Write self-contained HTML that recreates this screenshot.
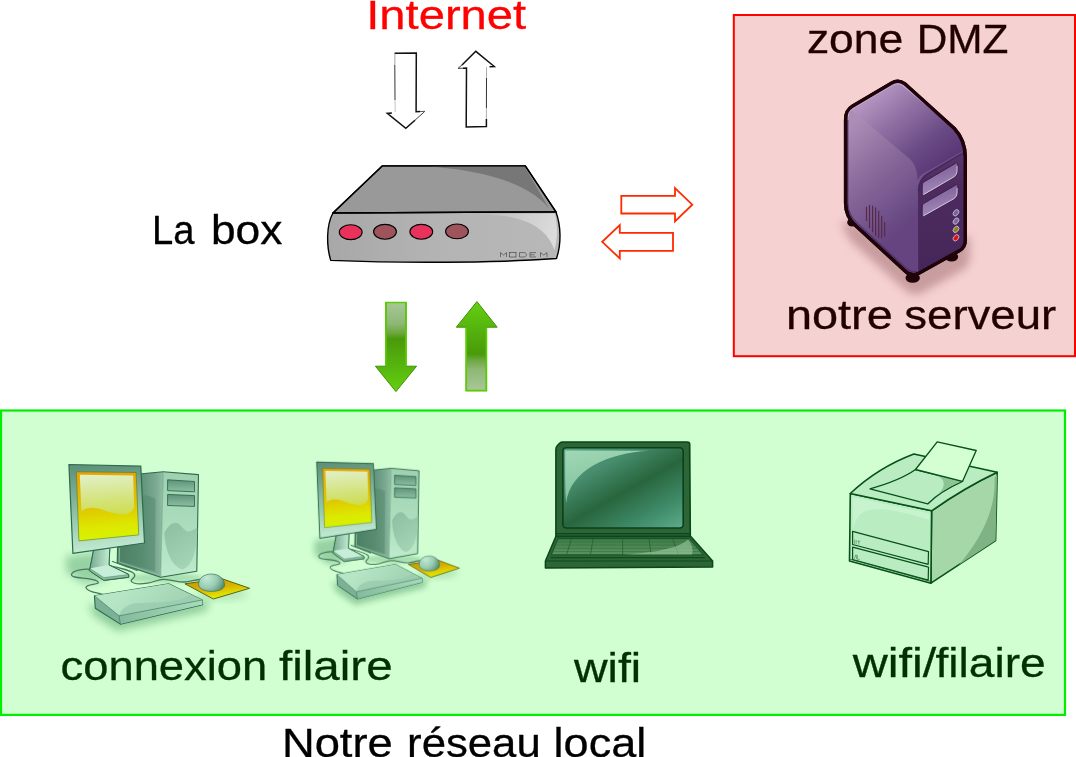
<!DOCTYPE html>
<html>
<head>
<meta charset="utf-8">
<title>Notre r&eacute;seau local</title>
<style>
html,body{margin:0;padding:0;background:#ffffff;}
body{width:1076px;height:757px;overflow:hidden;position:relative;font-family:"Liberation Sans",sans-serif;}
svg{position:absolute;left:0;top:0;display:block;}
text{font-family:"Liberation Sans",sans-serif;font-size:41.5px;stroke-width:0.3px;}
</style>
</head>
<body>
<svg width="1076" height="757" viewBox="0 0 1076 757">
<defs>

<linearGradient id="gDown" gradientUnits="userSpaceOnUse" x1="0" y1="302" x2="0" y2="392">
<stop offset="0" stop-color="#a9c898"/><stop offset="0.24" stop-color="#8eb876"/><stop offset="0.35" stop-color="#6aa63c"/><stop offset="0.41" stop-color="#4a9a0a"/><stop offset="0.7" stop-color="#56b40e"/><stop offset="1" stop-color="#64d010"/>
</linearGradient>
<linearGradient id="gUp" gradientUnits="userSpaceOnUse" x1="0" y1="391" x2="0" y2="301">
<stop offset="0" stop-color="#a9c898"/><stop offset="0.24" stop-color="#8eb876"/><stop offset="0.35" stop-color="#6aa63c"/><stop offset="0.41" stop-color="#4a9a0a"/><stop offset="0.7" stop-color="#56b40e"/><stop offset="1" stop-color="#64d010"/>
</linearGradient>

<linearGradient id="mFront" x1="0" y1="0" x2="1" y2="0">
<stop offset="0" stop-color="#a8a8a8"/><stop offset="0.5" stop-color="#b4b4b4"/><stop offset="1" stop-color="#b8b8b8"/>
</linearGradient>
<linearGradient id="mShine" gradientUnits="userSpaceOnUse" x1="480" y1="214" x2="556" y2="245">
<stop offset="0" stop-color="#bcbcbc"/><stop offset="1" stop-color="#dedede"/>
</linearGradient>

<filter id="blur4" x="-30%" y="-30%" width="160%" height="160%"><feGaussianBlur stdDeviation="4"/></filter>
<filter id="blur6" x="-30%" y="-30%" width="160%" height="160%"><feGaussianBlur stdDeviation="6"/></filter>
<filter id="blur2" x="-30%" y="-30%" width="160%" height="160%"><feGaussianBlur stdDeviation="2"/></filter>
<linearGradient id="sSide" gradientUnits="userSpaceOnUse" x1="846" y1="130" x2="920" y2="215">
<stop offset="0" stop-color="#ac8db6"/><stop offset="0.4" stop-color="#8c6c9c"/><stop offset="0.8" stop-color="#71518a"/><stop offset="1" stop-color="#65447f"/>
</linearGradient>
<linearGradient id="sTop" gradientUnits="userSpaceOnUse" x1="880" y1="88" x2="945" y2="168">
<stop offset="0" stop-color="#b595c0"/><stop offset="0.35" stop-color="#8e6ea2"/><stop offset="0.7" stop-color="#6a4a84"/><stop offset="1" stop-color="#573575"/>
</linearGradient>
<linearGradient id="sFront" gradientUnits="userSpaceOnUse" x1="940" y1="150" x2="940" y2="270">
<stop offset="0" stop-color="#59366f"/><stop offset="0.3" stop-color="#4d2b5e"/><stop offset="1" stop-color="#46265a"/>
</linearGradient>
<linearGradient id="sBay" x1="0" y1="0" x2="0.3" y2="1">
<stop offset="0" stop-color="#75558f"/><stop offset="1" stop-color="#a48cbc"/>
</linearGradient>
<clipPath id="ventClip"><ellipse cx="876" cy="220.5" rx="9.8" ry="16.5" transform="rotate(-22 876 220.5)"/></clipPath>

<linearGradient id="cBezel" gradientUnits="userSpaceOnUse" x1="100" y1="465" x2="108" y2="552">
<stop offset="0" stop-color="#5f927a"/><stop offset="0.5" stop-color="#8cbfa4"/><stop offset="1" stop-color="#c4ecd4"/>
</linearGradient>
<linearGradient id="cScreen" gradientUnits="userSpaceOnUse" x1="105" y1="472" x2="110" y2="540">
<stop offset="0" stop-color="#e9a400"/><stop offset="0.5" stop-color="#dfc500"/><stop offset="0.8" stop-color="#dde800"/><stop offset="1" stop-color="#d6f400"/>
</linearGradient>
<linearGradient id="cGloss" gradientUnits="userSpaceOnUse" x1="105" y1="474" x2="108" y2="514">
<stop offset="0" stop-color="#e1f0c6"/><stop offset="0.6" stop-color="#d5e480"/><stop offset="1" stop-color="#cede52"/>
</linearGradient>
<linearGradient id="cSide" gradientUnits="userSpaceOnUse" x1="118" y1="520" x2="163" y2="520">
<stop offset="0" stop-color="#4c8065"/><stop offset="0.55" stop-color="#63957b"/><stop offset="0.85" stop-color="#7caa92"/><stop offset="1" stop-color="#8fbfa4"/>
</linearGradient>
<linearGradient id="cFront" gradientUnits="userSpaceOnUse" x1="180" y1="472" x2="178" y2="576">
<stop offset="0" stop-color="#9fd0b0"/><stop offset="0.5" stop-color="#abdcbc"/><stop offset="1" stop-color="#bdebcb"/>
</linearGradient>
<linearGradient id="cBay" x1="0" y1="0" x2="0" y2="1">
<stop offset="0" stop-color="#5f927a"/><stop offset="1" stop-color="#8dbfa3"/>
</linearGradient>
<linearGradient id="cOval" gradientUnits="userSpaceOnUse" x1="168" y1="525" x2="195" y2="565">
<stop offset="0" stop-color="#8fc0a3"/><stop offset="1" stop-color="#a5d6b6"/>
</linearGradient>
<linearGradient id="cStand" gradientUnits="userSpaceOnUse" x1="92" y1="560" x2="110" y2="560">
<stop offset="0" stop-color="#7fb197"/><stop offset="1" stop-color="#c4ecd4"/>
</linearGradient>
<linearGradient id="cKbTop" gradientUnits="userSpaceOnUse" x1="130" y1="585" x2="160" y2="615">
<stop offset="0" stop-color="#b6e6c6"/><stop offset="1" stop-color="#a4d6b6"/>
</linearGradient>
<linearGradient id="cKbFront" gradientUnits="userSpaceOnUse" x1="120" y1="620" x2="202" y2="602">
<stop offset="0" stop-color="#86ba9e"/><stop offset="1" stop-color="#a8dabb"/>
</linearGradient>
<linearGradient id="cPad" gradientUnits="userSpaceOnUse" x1="215" y1="579" x2="218" y2="599">
<stop offset="0" stop-color="#cf9800"/><stop offset="0.45" stop-color="#d9b400"/><stop offset="0.75" stop-color="#e0d800"/><stop offset="1" stop-color="#e4f000"/>
</linearGradient>
<radialGradient id="cMouse" gradientUnits="userSpaceOnUse" cx="207" cy="578" r="18">
<stop offset="0" stop-color="#c2ead6"/><stop offset="0.55" stop-color="#9accb2"/><stop offset="0.85" stop-color="#6fa68c"/><stop offset="1" stop-color="#568c72"/>
</radialGradient>

<linearGradient id="lScreen" gradientUnits="userSpaceOnUse" x1="593.1" y1="434.9" x2="656.9" y2="548.1">
<stop offset="0" stop-color="#5aa283"/><stop offset="0.25" stop-color="#468c6d"/><stop offset="0.5" stop-color="#28663d"/><stop offset="0.75" stop-color="#3f8a68"/><stop offset="1" stop-color="#62b292"/>
</linearGradient>
<linearGradient id="lGloss" gradientUnits="userSpaceOnUse" x1="575" y1="450" x2="585" y2="500">
<stop offset="0" stop-color="#a6dcb8"/><stop offset="1" stop-color="#86c6a4"/>
</linearGradient>
<linearGradient id="lKeys" gradientUnits="userSpaceOnUse" x1="0" y1="538" x2="0" y2="555">
<stop offset="0" stop-color="#3f7c49"/><stop offset="1" stop-color="#5a9460"/>
</linearGradient>
<clipPath id="lKeyClip"><path d="M558 538.7 H689.4 L703.1 554.8 H551.4 Z"/></clipPath>

<clipPath id="pSideClip"><path d="M931.6 510.8 Q965 487.5 997.2 472.3 L995.6 540.6 L930.9 583.2 Z"/></clipPath>
<clipPath id="pFrontClip"><path d="M850.3 493.5 L931.6 510.8 L930.9 583.2 L849.5 561.1 Z"/></clipPath>
<!--DEFS-->
</defs>

<!-- ===== zones ===== -->
<rect x="733.8" y="15" width="341.2" height="341.2" fill="#f6d1d1" stroke="#ff0000" stroke-width="2"/>
<rect x="1" y="410.5" width="1064" height="304.4" fill="#d2ffd2" stroke="#00ee00" stroke-width="2.2"/>

<!-- ===== labels ===== -->
<g id="labels" style="will-change:opacity;opacity:0.9999">
<text x="366.2" y="29.2" fill="#ff0000" stroke="#ff0000" textLength="160.0" lengthAdjust="spacingAndGlyphs">Internet</text>
<text x="152.0" y="243.5" fill="#000000" stroke="#000000" textLength="42.5" lengthAdjust="spacingAndGlyphs">La</text>
<text x="210.9" y="243.5" fill="#000000" stroke="#000000" textLength="71.5" lengthAdjust="spacingAndGlyphs">box</text>
<text x="806.9" y="53" fill="#220000" stroke="#220000" textLength="96.4" lengthAdjust="spacingAndGlyphs">zone</text>
<text x="916.7" y="53" fill="#220000" stroke="#220000" textLength="91.7" lengthAdjust="spacingAndGlyphs">DMZ</text>
<text x="785.9" y="328.9" fill="#220000" stroke="#220000" textLength="106.8" lengthAdjust="spacingAndGlyphs">notre</text>
<text x="904.3" y="328.9" fill="#220000" stroke="#220000" textLength="151.9" lengthAdjust="spacingAndGlyphs">serveur</text>
<text x="60.5" y="679.5" fill="#003000" stroke="#003000" textLength="206.8" lengthAdjust="spacingAndGlyphs">connexion</text>
<text x="279.0" y="679.5" fill="#003000" stroke="#003000" textLength="113.6" lengthAdjust="spacingAndGlyphs">filaire</text>
<text x="573.9" y="681.9" fill="#003000" stroke="#003000" textLength="67.3" lengthAdjust="spacingAndGlyphs">wifi</text>
<text x="852.7" y="677.4" fill="#003000" stroke="#003000" textLength="83.6" lengthAdjust="spacingAndGlyphs">wifi/</text>
<text x="935.4" y="677.4" fill="#003000" stroke="#003000" textLength="110.4" lengthAdjust="spacingAndGlyphs">filaire</text>
<text x="281.9" y="757.2" fill="#000000" stroke="#000000" textLength="110.9" lengthAdjust="spacingAndGlyphs">Notre</text>
<text x="407.1" y="757.2" fill="#000000" stroke="#000000" textLength="133.6" lengthAdjust="spacingAndGlyphs">r&eacute;seau</text>
<text x="553.6" y="757.2" fill="#000000" stroke="#000000" textLength="92.6" lengthAdjust="spacingAndGlyphs">local</text>
</g>

<!-- ===== red arrows ===== -->
<g fill="none" stroke="#ff2a00" stroke-width="1.8" stroke-linejoin="miter">
<path d="M621.3 195.8 H675 V188 L692.3 204.7 L675 221.4 V213.5 H621.3 Z"/>
<path d="M673 232.9 H619.8 V225.2 L602.2 241.8 L619.8 258.4 V250.8 H673 Z"/>
</g>

<!-- ===== black sketch arrows ===== -->
<g fill="none" stroke="#111" stroke-linejoin="miter" stroke-linecap="butt">
<path d="M394.6 53.2 L416.3 53 L416.1 111.7 L420 111.6" stroke-width="1.5"/>
<path d="M420 111.6 L424.9 111.3" stroke-width="0.7"/>
<path d="M391.9 113 L387.3 113.4 L405.8 128.3 L415 120.2" stroke-width="1.5"/>
<path d="M415 120.2 L424.6 111.6" stroke-width="0.8"/>
<path d="M394.9 53.4 L394.8 65" stroke-width="0.6" stroke="#666"/>
<path d="M394.8 65 L395 100" stroke-width="1" stroke="#333"/>
<path d="M395 100 L395.2 112" stroke-width="0.5" stroke="#888"/>
<path d="M463.2 68.2 L458 68.4 L462 64.9" stroke-width="0.8"/>
<path d="M463 68.2 L466.5 68.1 L466.2 127 L486.4 126.6 L486.4 119" stroke-width="1.5"/>
<path d="M462 65 L475.8 51.3 L494.3 66.5 L489.5 66.8" stroke-width="1.5"/>
<path d="M486.4 119 L486.4 108" stroke-width="0.6" stroke="#777"/>
<path d="M486.4 108 L486.5 78" stroke-width="1" stroke="#333"/>
<path d="M486.5 78 L486.5 67.2" stroke-width="0.6" stroke="#777"/>
</g>
<!-- ===== green arrows ===== -->
<path d="M385.9 302.5 H406 V366.2 H416.6 L395.9 391.6 L375.4 366.2 H385.9 Z" fill="url(#gDown)" stroke="#3f9200" stroke-width="1" stroke-linejoin="miter"/>
<path d="M385.9 366 V302.5 H406 V366" fill="none" stroke="#5acb04" stroke-width="1.7" stroke-linejoin="miter"/>
<path d="M466.2 390.6 H486.4 V327.2 H497.2 L476.9 301.6 L456.3 327.2 H466.2 Z" fill="url(#gUp)" stroke="#3f9200" stroke-width="1" stroke-linejoin="miter"/>
<path d="M466.2 327.4 V390.6 H486.4 V327.4" fill="none" stroke="#5acb04" stroke-width="1.7" stroke-linejoin="miter"/>
<!-- ===== modem ===== -->
<g stroke-linejoin="round">
<path d="M382.2 165.9 H525.3 L556 211.9 L332.9 213 Z" fill="#999999" stroke="#000" stroke-width="1.4"/>
<path d="M428 166.6 C480 170 528 182 549 208.5 L524.6 166.6 Z" fill="#777777"/>
<path d="M332.9 213 C326 226 326.5 246 330.7 260.4 C400 263.2 490 263.2 556.5 258.5 C561.5 244 561 226 556 211.9 Z" fill="url(#mFront)" stroke="#000" stroke-width="1.4"/>
<path d="M478 214.2 C515 214.5 545 222 554.5 250 C558 238 557.5 224 554.8 213.6 Z" fill="url(#mShine)"/>
<path d="M382.2 165.9 H525.3 L556 211.9 L332.9 213 Z" fill="none" stroke="#000" stroke-width="1.4"/>
<g stroke="#000" stroke-width="1.1">
<ellipse cx="350.7" cy="232.2" rx="11.4" ry="7.4" fill="#e8325c"/>
<ellipse cx="385" cy="231.8" rx="11.4" ry="7.4" fill="#9f545b"/>
<ellipse cx="421.3" cy="231.8" rx="11.4" ry="7.4" fill="#e8325c"/>
<ellipse cx="457" cy="231.4" rx="11.4" ry="7.4" fill="#9f545b"/>
</g>
<g fill="none" stroke="#4a4a4a" stroke-width="0.7" stroke-linejoin="miter">
<path d="M500.5 257 V252.6 L503.5 255 L506.5 252.6 V257"/>
<rect x="509.5" y="252.6" width="6.5" height="4.4"/>
<path d="M519.5 252.6 H524.5 C527 253.2 527 256.4 524.5 257 H519.5 Z"/>
<path d="M536 252.6 H530 V257 H536 M530 254.8 H534.5"/>
<path d="M540.5 257 V252.6 L543.7 255 L547 252.6 V257"/>
</g>
</g>

<!-- ===== server ===== -->
<g>
<path d="M842 220 C844 232 849 240 856 246 L906 291 C911 295 917 295.5 922 293 L963 270 C969 266.5 970 260 970 254 L970 236 L930 250 Z" fill="#bd9093" opacity="0.8" filter="url(#blur4)"/>
<ellipse cx="852.2" cy="222.4" rx="5" ry="4.2" fill="#1f0308"/>
<ellipse cx="912.7" cy="278" rx="7.2" ry="4.8" fill="#1f0308"/>
<ellipse cx="951.6" cy="256.8" rx="6.6" ry="4.8" fill="#1f0308"/>
<path d="M904.5 83.6 C900 80.4 895.8 80.6 891.4 83.2 L852.4 106.2 C847 109.4 845.6 113.2 845.6 119.8 L845.6 203 C845.6 213 848.6 219.5 855.5 225.6 L905.6 271.4 C909.6 275 914.4 275.6 918.8 273.2 L959.6 250.6 C964 248 965.2 245.3 965.2 240.6 L965.2 157 C965.2 146 961.6 136.4 954.3 128.5 Z" fill="url(#sSide)" stroke="#1f0308" stroke-width="3.4" stroke-linejoin="round"/>
<path d="M904.5 83.6 C900 80.4 895.8 80.6 891.4 83.2 L852.4 106.2 C851 107 850 108 849.2 109 C852 110.6 854 112 856 113.6 L909.5 158.8 C914.5 163.5 917.4 170 917.8 181 C918.6 176.6 922 174 929 170.6 L960 152.6 C962.4 151.4 964.4 150.6 965.2 151.6 C964.6 143 960.6 135 954.3 128.5 Z" fill="url(#sTop)"/>
<path d="M918.2 270 L918 192 C918 182 921 176.5 929 172 L960 153.4 C962.4 152 964.4 151.2 965.2 152.2 L965.2 240.6 C965.2 245.3 964 248 959.6 250.6 L918.8 273.2 Z" fill="url(#sFront)"/>
<path d="M918.4 191 C918.6 182.5 921.6 177.6 929 173.2 L960 155 C962.4 153.6 964 153 965 153.6" fill="none" stroke="#3b1c4c" stroke-width="1.4" opacity="0.45"/>
<path d="M848.2 117 C847.8 113.6 849.6 110 853.3 107.9 L892 85.2 C895.4 83.2 898.6 83.1 901.6 84.6 L936 113" fill="none" stroke="#d2bcdb" stroke-width="1.1" opacity="0.7"/>
<path d="M847.8 120 L847.8 203 C848 211.5 851 217.6 857 223 L906.6 268.4 C910 271.4 913.6 272.4 917 271" fill="none" stroke="#4b2c66" stroke-width="1.3" opacity="0.8"/>
<!-- bays -->
<path d="M922.2 186 C922.2 183.6 923 182.4 924.8 181.4 L955.4 163.4 C957 162.5 957.8 163 957.8 164.8 L957.8 170 C957.8 174 956.4 176.2 953.4 177.9 L924.8 194.7 C923 195.7 922.2 195.3 922.2 193.6 Z" fill="url(#sBay)" stroke="#34184a" stroke-width="0.9"/>
<path d="M923.6 194.6 L953.2 177.3 C956 175.6 957.1 173.6 957.1 170 L957.1 166" fill="none" stroke="#ecd6ea" stroke-width="0.9" opacity="0.9"/>
<path d="M922.2 207.4 C922.2 205 923 203.8 924.8 202.8 L955.4 185.2 C957 184.3 957.8 184.8 957.8 186.6 L957.8 191.8 C957.8 195.8 956.4 198 953.4 199.7 L924.8 215.9 C923 216.9 922.2 216.5 922.2 214.8 Z" fill="url(#sBay)" stroke="#34184a" stroke-width="0.9"/>
<path d="M923.6 215.8 L953.2 199.1 C956 197.4 957.1 195.4 957.1 191.8 L957.1 188" fill="none" stroke="#ecd6ea" stroke-width="0.9" opacity="0.9"/>
<!-- leds -->
<g stroke="#c9b9db" stroke-width="0.8">
<ellipse cx="956" cy="212.8" rx="3.5" ry="2.4" fill="#7a629c" transform="rotate(-52 956 212.8)"/>
<ellipse cx="956" cy="221.1" rx="3.5" ry="2.4" fill="#8068a2" transform="rotate(-52 956 221.1)"/>
<ellipse cx="956" cy="229.4" rx="3.5" ry="2.4" fill="#8a8220" transform="rotate(-52 956 229.4)"/>
<ellipse cx="956" cy="237.8" rx="3.5" ry="2.4" fill="#e01212" transform="rotate(-52 956 237.8)"/>
</g>
<!-- vent -->
<g stroke="#572848" stroke-width="1.15" stroke-linecap="round" fill="none">
<path d="M866.5 207 V220.6 M869.5 205.3 V227.5 M872.6 206.1 V231.8 M875.6 207.8 V235.6 M878.7 211.4 V237.4 M881.7 216 V237.8 M884.7 222.5 V236.2"/>
</g>
<path d="M904.5 83.6 C900 80.4 895.8 80.6 891.4 83.2 L852.4 106.2 C847 109.4 845.6 113.2 845.6 119.8 L845.6 203 C845.6 213 848.6 219.5 855.5 225.6 L905.6 271.4 C909.6 275 914.4 275.6 918.8 273.2 L959.6 250.6 C964 248 965.2 245.3 965.2 240.6 L965.2 157 C965.2 146 961.6 136.4 954.3 128.5 Z" fill="none" stroke="#1f0308" stroke-width="3.4" stroke-linejoin="round"/>
</g>
<!-- ===== computers ===== -->
<g>
<!-- soft shadows -->
<path d="M66 556 L96 552 L108 580 L84 584 L66 572 Z" fill="#6fb482" opacity="0.6" filter="url(#blur4)"/>
<path d="M88 604 L94 616 L118 631 L206 611 L210 600 L120 610 Z" fill="#72b684" opacity="0.7" filter="url(#blur4)"/>
<ellipse cx="222" cy="594" rx="26" ry="6" fill="#8fcb9c" opacity="0.5" filter="url(#blur4)"/>
<ellipse cx="165" cy="578" rx="38" ry="5" fill="#7fc08f" opacity="0.5" filter="url(#blur2)"/>
<!-- tower side -->
<path d="M118 476.2 L141.8 473.7 L163.3 471.7 L160.7 577.2 L117.2 563.1 Z" fill="url(#cSide)"/>
<path d="M141.8 473.7 L163.3 471.7 M160.7 577.2 L117.2 563.1 L117.6 545" fill="none" stroke="#2d6b4b" stroke-width="1.1" stroke-linejoin="round" stroke-linecap="round"/>
<path d="M119.4 548 L119.2 562 L159 575" fill="none" stroke="#8fc3a6" stroke-width="1.2" opacity="0.8"/>
<path d="M141 496 C146 494.5 151 496 155.5 499 L155 571.4 L121.5 560.6 L121.5 545 L141 545 Z" fill="#4a7f64" opacity="0.4"/>
<!-- tower front -->
<path d="M163.3 471.7 L198.5 474.6 L196.8 571.3 L160.7 577.2 Z" fill="url(#cFront)"/>
<path d="M163.3 471.7 L198.5 474.6 L196.8 571.3 L160.7 577.2" fill="none" stroke="#2d6b4b" stroke-width="1.1" stroke-linejoin="round"/>
<path d="M163.3 471.7 L160.7 577.2" fill="none" stroke="#5f957a" stroke-width="0.7" opacity="0.7"/>
<path d="M164.4 532.6 C168 526 172 522.6 175.6 522.8 C180.5 523 183.5 531 188 531.4 C191.5 531.6 194.5 529.6 197.2 527.6 C197.6 550 192 567 182.4 569.4 C172 567 164.8 550 164.4 532.6 Z" fill="url(#cOval)"/>
<path d="M167.6 479.8 L194.5 481.5 V491.8 L167.6 490.6 Z" fill="url(#cBay)" stroke="#2d6b4b" stroke-width="0.9"/>
<path d="M167.6 494.4 L194.5 495.6 V506.4 L167.6 505.5 Z" fill="url(#cBay)" stroke="#2d6b4b" stroke-width="0.9"/>
<!-- cables -->
<g fill="none" stroke="#467a5e" stroke-width="1.3" stroke-linecap="round">
<path d="M91 569.3 C84 568.5 72 570.5 71.5 574.6 C71 579 90 577 97 581 C103 585 86 583.5 86 587.4 C86 591.5 98 593 103.5 594.6"/>
<path d="M109.3 565.6 C120 568 133 570.5 134.6 574.4 C136 578 129.5 579.5 131.6 581.6 C134 584.2 142 584 147.4 583.2 C154 582.2 158 579.2 164.1 579.4 C172 579.6 178 582.3 184.5 582 C190 581.8 194 580 199.4 579.5"/>
<path d="M112.6 561.5 C122 565 130 567.5 137 570.5"/>
</g>
<!-- stand -->
<path d="M93.5 550.4 L109.8 548.6 L109 565 L128.7 574.4 V577.3 L103.8 580.4 L89.2 570.5 L90 568.4 Z" fill="#b9e6ca" stroke="#2d6b4b" stroke-width="1" stroke-linejoin="round"/>
<path d="M93.5 550.4 L109.8 548.6 L109 565 L90 568.4 Z" fill="url(#cStand)"/>
<path d="M90 568.4 L109 565 L128.7 574.4 L103.8 577.6 Z" fill="#c7eed6"/>
<path d="M89.2 570.5 L103.8 580.4 L128.7 577.3 V574.4 L103.8 577.6 L90 568.4 Z" fill="#88ba9e"/>
<path d="M93.5 550.4 L90 568.4 L89.2 570.5 L103.8 580.4 L128.7 577.3 V574.4 L109 565 L109.8 548.6" fill="none" stroke="#2d6b4b" stroke-width="1" stroke-linejoin="round"/>
<path d="M90 568.4 L103.8 577.6 L128.7 574.4" fill="none" stroke="#2d6b4b" stroke-width="0.5" opacity="0.7"/>
<!-- monitor -->
<path d="M68.9 464.5 L140.8 466.2 L144.5 543 L72.9 553.3 Z" fill="url(#cBezel)" stroke="#2d6b4b" stroke-width="1.2" stroke-linejoin="round"/>
<path d="M76.3 471.8 L136.1 472.5 L138.7 534.9 L78.9 540.9 Z" fill="url(#cScreen)" stroke="#4c7a3a" stroke-width="0.6"/>
<path d="M79.8 474.8 L133.2 475.4 L134.2 506.5 C131.5 515 124 515.5 115 513.6 C103 511 92 503.5 81.4 511.2 Z" fill="url(#cGloss)"/>
<!-- keyboard -->
<path d="M94.4 595.7 L168.7 583.8 L202.2 600 L202.6 604.6 L120.4 624.1 L95.3 608.3 Z" fill="#7db197" stroke="#2d6b4b" stroke-width="1.1" stroke-linejoin="round"/>
<path d="M94.4 595.7 L168.7 583.8 L202.2 600 L119.1 615.8 Z" fill="url(#cKbTop)"/>
<path d="M119.1 615.8 L202.2 600 L202.6 604.6 L120.4 624.1 Z" fill="url(#cKbFront)"/>
<path d="M119.1 615.8 C121 608 128 603.5 140 603 C158 602.2 180 603 190 594.2 L202.2 600 Z" fill="#98caad" opacity="0.75"/>
<path d="M94.4 595.7 L119.1 615.8 L202.2 600 M119.1 615.8 L120.4 624.1" fill="none" stroke="#2d6b4b" stroke-width="0.7" opacity="0.75"/>
<!-- mouse pad + mouse -->
<path d="M184.9 583.8 L221.7 578.6 L249.6 588.3 L213.3 599 Z" fill="url(#cPad)" stroke="#4f6a14" stroke-width="1" stroke-linejoin="round"/>
<path d="M198.6 584.6 C198.6 578 204 574 211.4 574 C218.8 574 224.4 578.5 224.6 585 C224.6 589 218.6 591.4 211.6 591.4 C204.6 591.4 198.6 588.6 198.6 584.6 Z" fill="url(#cMouse)" stroke="#3c7558" stroke-width="0.7"/>
</g>
<g transform="translate(262.2 64) scale(0.79 0.857)">
<!-- soft shadows -->
<path d="M66 556 L96 552 L108 580 L84 584 L66 572 Z" fill="#6fb482" opacity="0.6" filter="url(#blur4)"/>
<path d="M88 604 L94 616 L118 631 L206 611 L210 600 L120 610 Z" fill="#72b684" opacity="0.7" filter="url(#blur4)"/>
<ellipse cx="222" cy="594" rx="26" ry="6" fill="#8fcb9c" opacity="0.5" filter="url(#blur4)"/>
<ellipse cx="165" cy="578" rx="38" ry="5" fill="#7fc08f" opacity="0.5" filter="url(#blur2)"/>
<!-- tower side -->
<path d="M118 476.2 L141.8 473.7 L163.3 471.7 L160.7 577.2 L117.2 563.1 Z" fill="url(#cSide)"/>
<path d="M141.8 473.7 L163.3 471.7 M160.7 577.2 L117.2 563.1 L117.6 545" fill="none" stroke="#2d6b4b" stroke-width="1.1" stroke-linejoin="round" stroke-linecap="round"/>
<path d="M119.4 548 L119.2 562 L159 575" fill="none" stroke="#8fc3a6" stroke-width="1.2" opacity="0.8"/>
<path d="M141 496 C146 494.5 151 496 155.5 499 L155 571.4 L121.5 560.6 L121.5 545 L141 545 Z" fill="#4a7f64" opacity="0.4"/>
<!-- tower front -->
<path d="M163.3 471.7 L198.5 474.6 L196.8 571.3 L160.7 577.2 Z" fill="url(#cFront)"/>
<path d="M163.3 471.7 L198.5 474.6 L196.8 571.3 L160.7 577.2" fill="none" stroke="#2d6b4b" stroke-width="1.1" stroke-linejoin="round"/>
<path d="M163.3 471.7 L160.7 577.2" fill="none" stroke="#5f957a" stroke-width="0.7" opacity="0.7"/>
<path d="M164.4 532.6 C168 526 172 522.6 175.6 522.8 C180.5 523 183.5 531 188 531.4 C191.5 531.6 194.5 529.6 197.2 527.6 C197.6 550 192 567 182.4 569.4 C172 567 164.8 550 164.4 532.6 Z" fill="url(#cOval)"/>
<path d="M167.6 479.8 L194.5 481.5 V491.8 L167.6 490.6 Z" fill="url(#cBay)" stroke="#2d6b4b" stroke-width="0.9"/>
<path d="M167.6 494.4 L194.5 495.6 V506.4 L167.6 505.5 Z" fill="url(#cBay)" stroke="#2d6b4b" stroke-width="0.9"/>
<!-- cables -->
<g fill="none" stroke="#467a5e" stroke-width="1.3" stroke-linecap="round">
<path d="M91 569.3 C84 568.5 72 570.5 71.5 574.6 C71 579 90 577 97 581 C103 585 86 583.5 86 587.4 C86 591.5 98 593 103.5 594.6"/>
<path d="M109.3 565.6 C120 568 133 570.5 134.6 574.4 C136 578 129.5 579.5 131.6 581.6 C134 584.2 142 584 147.4 583.2 C154 582.2 158 579.2 164.1 579.4 C172 579.6 178 582.3 184.5 582 C190 581.8 194 580 199.4 579.5"/>
<path d="M112.6 561.5 C122 565 130 567.5 137 570.5"/>
</g>
<!-- stand -->
<path d="M93.5 550.4 L109.8 548.6 L109 565 L128.7 574.4 V577.3 L103.8 580.4 L89.2 570.5 L90 568.4 Z" fill="#b9e6ca" stroke="#2d6b4b" stroke-width="1" stroke-linejoin="round"/>
<path d="M93.5 550.4 L109.8 548.6 L109 565 L90 568.4 Z" fill="url(#cStand)"/>
<path d="M90 568.4 L109 565 L128.7 574.4 L103.8 577.6 Z" fill="#c7eed6"/>
<path d="M89.2 570.5 L103.8 580.4 L128.7 577.3 V574.4 L103.8 577.6 L90 568.4 Z" fill="#88ba9e"/>
<path d="M93.5 550.4 L90 568.4 L89.2 570.5 L103.8 580.4 L128.7 577.3 V574.4 L109 565 L109.8 548.6" fill="none" stroke="#2d6b4b" stroke-width="1" stroke-linejoin="round"/>
<path d="M90 568.4 L103.8 577.6 L128.7 574.4" fill="none" stroke="#2d6b4b" stroke-width="0.5" opacity="0.7"/>
<!-- monitor -->
<path d="M68.9 464.5 L140.8 466.2 L144.5 543 L72.9 553.3 Z" fill="url(#cBezel)" stroke="#2d6b4b" stroke-width="1.2" stroke-linejoin="round"/>
<path d="M76.3 471.8 L136.1 472.5 L138.7 534.9 L78.9 540.9 Z" fill="url(#cScreen)" stroke="#4c7a3a" stroke-width="0.6"/>
<path d="M79.8 474.8 L133.2 475.4 L134.2 506.5 C131.5 515 124 515.5 115 513.6 C103 511 92 503.5 81.4 511.2 Z" fill="url(#cGloss)"/>
<!-- keyboard -->
<path d="M94.4 595.7 L168.7 583.8 L202.2 600 L202.6 604.6 L120.4 624.1 L95.3 608.3 Z" fill="#7db197" stroke="#2d6b4b" stroke-width="1.1" stroke-linejoin="round"/>
<path d="M94.4 595.7 L168.7 583.8 L202.2 600 L119.1 615.8 Z" fill="url(#cKbTop)"/>
<path d="M119.1 615.8 L202.2 600 L202.6 604.6 L120.4 624.1 Z" fill="url(#cKbFront)"/>
<path d="M119.1 615.8 C121 608 128 603.5 140 603 C158 602.2 180 603 190 594.2 L202.2 600 Z" fill="#98caad" opacity="0.75"/>
<path d="M94.4 595.7 L119.1 615.8 L202.2 600 M119.1 615.8 L120.4 624.1" fill="none" stroke="#2d6b4b" stroke-width="0.7" opacity="0.75"/>
<!-- mouse pad + mouse -->
<path d="M184.9 583.8 L221.7 578.6 L249.6 588.3 L213.3 599 Z" fill="url(#cPad)" stroke="#4f6a14" stroke-width="1" stroke-linejoin="round"/>
<path d="M198.6 584.6 C198.6 578 204 574 211.4 574 C218.8 574 224.4 578.5 224.6 585 C224.6 589 218.6 591.4 211.6 591.4 C204.6 591.4 198.6 588.6 198.6 584.6 Z" fill="url(#cMouse)" stroke="#3c7558" stroke-width="0.7"/>
</g>
<!-- ===== laptop ===== -->
<g stroke-linejoin="round">
<!-- base -->
<path d="M555.9 536.2 H690.6 L712.6 561 V567.1 L545.4 568.1 V561 Z" fill="#2c6536" stroke="#0b4519" stroke-width="1.5"/>
<path d="M545.4 561 H712.6" stroke="#0d4a1c" stroke-width="1.2" fill="none"/>
<path d="M550.4 557.6 H704.8" stroke="#0d4a1c" stroke-width="1.1" fill="none"/>
<path d="M558 538.7 H689.4 L703.1 554.8 H551.4 Z" fill="url(#lKeys)" stroke="#0d4a1c" stroke-width="0.8"/>
<g clip-path="url(#lKeyClip)">
<path d="M540 541.9 H720 M540 545.1 H720 M540 548.4 H720 M540 551.6 H720" stroke="#2f6d39" stroke-width="0.7" fill="none" opacity="0.8"/>
<path d="M571.5 538.7 L566.5 554.8 M593 538.7 L590.5 554.8 M622.5 538.7 L622.7 554.8 M649 538.7 L651 554.8 M672.5 538.7 L678.5 554.8" stroke="#265f30" stroke-width="0.8" fill="none"/>
<path d="M622 554.8 C650 553 678 549 688 539.5 C693 545 693 551 692 554.8 Z" fill="#9cc9a0" opacity="0.6"/>
</g>
<!-- lid -->
<path d="M555.9 449.5 C555.9 447.6 556.4 446.6 557.4 445.5 L559.6 443.2 C560.6 442.2 561.6 442 563 442 H687.4 C688.8 442 689.7 442.8 689.7 444.2 L690.3 536.2 H555.9 Z" fill="#2c6536" stroke="#0b4519" stroke-width="1.6"/>
<path d="M555.9 533.6 H690.4" stroke="#0b4519" stroke-width="1.3" fill="none"/>
<path d="M555.2 536.6 H691" stroke="#0b4519" stroke-width="1.4" fill="none"/>
<rect x="562.9" y="447.7" width="120.3" height="80.3" rx="3.4" ry="3.4" fill="url(#lScreen)" stroke="#0a401a" stroke-width="1.6"/>
<path d="M565.2 450.6 L649 450.8 C608 453 570 470 566.2 503 C565 490 565.2 470 565.2 450.6 Z" fill="url(#lGloss)" opacity="0.92"/>
</g>

<!-- ===== printer ===== -->
<g stroke-linejoin="round" stroke-linecap="round">
<!-- side -->
<path d="M931.6 510.8 Q965 487.5 997.2 472.3 L995.6 540.6 L930.9 583.2 Z" fill="#a5d7a9" stroke="#085019" stroke-width="1.6"/>
<g clip-path="url(#pSideClip)"><path d="M994.5 478 C996 505 985 535 958 566 L1000 566 L1000 470 Z" fill="#7fb385"/></g>
<!-- front -->
<path d="M850.3 493.5 L931.6 510.8 L930.9 583.2 L849.5 561.1 Z" fill="#b9edc1" stroke="#085019" stroke-width="1.6"/>
<g clip-path="url(#pFrontClip)">
<path d="M852.5 497 L929.5 513.5 L929.5 520 C905 512 880 506 866 511 C858 514 854.5 521 853.5 530 Z" fill="#cdf7d4" opacity="0.7"/>
</g>
<path d="M852.6 531.4 L928.5 551.6 L928.2 564.3 L852.6 544.5 Z" fill="#b9edc1" stroke="#085019" stroke-width="1.2"/>
<path d="M852.6 547.2 L928.5 567.1 L928.2 580.1 L852.6 559.5 Z" fill="#b9edc1" stroke="#085019" stroke-width="1.2"/>
<path d="M850.6 559.4 L930 581.2" fill="none" stroke="#0a561c" stroke-width="0.8"/>
<g fill="none" stroke="#2a6a3a" stroke-width="0.5">
<path d="M854.6 540 V543.4 M856.2 540.4 V543.8 M857.8 541.2 H859.8 M858.8 541.2 V544.4"/>
<path d="M854.4 558.4 L856 554.6 L856.6 558.8 M857.4 555.4 V559.2 L859.4 559.6"/>
</g>
<!-- top -->
<path d="M850.3 493.5 Q878 467.5 913.9 454 L997.2 472.3 Q965 487.5 931.6 510.8 Z" fill="#b9edc1" stroke="#085019" stroke-width="1.6"/>
<!-- tray -->
<path d="M870 488.8 Q900 480.5 915.5 469.5 L962.5 481.4 Q940 491.5 927.7 503.9 Z" fill="#b9edc1" stroke="#085019" stroke-width="1.35"/>
<path d="M936 475.2 C945 478.5 946.5 486 938.8 493.6 C946 488.5 954 484.6 961 481.6 Z" fill="#8cc493"/>
<!-- paper -->
<path d="M937.2 441.9 L976.2 450.5 L962.5 481.4 L915.5 469.5 Z" fill="#d3ffd3" stroke="#085019" stroke-width="1.35"/>
</g>

</svg>
</body>
</html>
